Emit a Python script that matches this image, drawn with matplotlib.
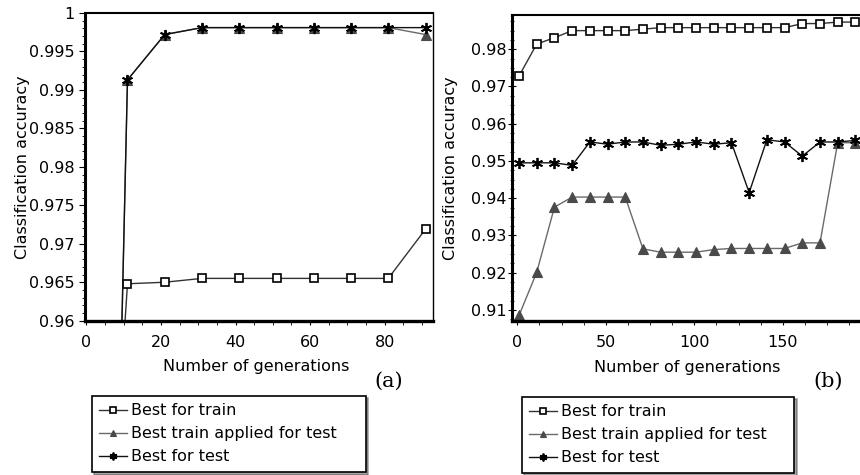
import matplotlib
matplotlib.use("Agg")
import matplotlib.pyplot as plt
from matplotlib.ticker import MultipleLocator, FuncFormatter

plt.rcParams['font.family'] = ['DejaVu Sans']

# ---------------- data ----------------
# panel (a)
gen_a = [1, 11, 21, 31, 41, 51, 61, 71, 81, 91]
a_best_train = [0.890, 0.9648, 0.9650, 0.9655, 0.9655, 0.9655, 0.9655, 0.9655, 0.9655, 0.9719]
a_train_applied = [0.780, 0.9913, 0.9972, 0.9981, 0.9981, 0.9981, 0.9981, 0.9981, 0.9981, 0.9972]
a_best_test = [0.780, 0.9913, 0.9972, 0.9981, 0.9981, 0.9981, 0.9981, 0.9981, 0.9981, 0.9981]

# panel (b)
gen_b = [1, 11, 21, 31, 41, 51, 61, 71, 81, 91, 101, 111, 121, 131, 141, 151, 161, 171, 181, 191]
b_best_train = [0.9728, 0.9814, 0.9831, 0.9850, 0.9850, 0.9850, 0.9850, 0.9854, 0.9858, 0.9858,
                0.9858, 0.9858, 0.9858, 0.9858, 0.9858, 0.9858, 0.9869, 0.9869, 0.9873, 0.9873]
b_train_applied = [0.9085, 0.9201, 0.9376, 0.9403, 0.9403, 0.9403, 0.9403, 0.9264, 0.9255, 0.9255,
                   0.9255, 0.9262, 0.9265, 0.9265, 0.9265, 0.9265, 0.9280, 0.9280, 0.9549, 0.9549]
b_best_test = [0.9495, 0.9495, 0.9495, 0.9488, 0.9551, 0.9545, 0.9551, 0.9551, 0.9542, 0.9545,
               0.9551, 0.9545, 0.9549, 0.9415, 0.9557, 0.9551, 0.9513, 0.9551, 0.9551, 0.9555]

labels = ["Best for train", "Best train applied for test", "Best for test"]
xlabel_txt = "Number of generations"
ylabel_txt = "Classification accuracy"

FS = 11.5
W, H = 860, 475
fig = plt.figure(figsize=(W / 100, H / 100), dpi=100)

def fx(px):
    return px / W

def fy(py):
    return 1 - py / H

ax_a = fig.add_axes([fx(85), fy(320.7), (433 - 85) / W, (320.7 - 13) / H])
ax_b = fig.add_axes([fx(512.3), fy(320.7), (860 - 512.3) / W, (320.7 - 15) / H])

fmt = FuncFormatter(lambda v, p: f"{round(v, 4):g}")

def draw(ax, gen, train, applied, test):
    h2, = ax.plot(gen, applied, color='#6a6a6a', lw=1.0, marker='^', ms=6.5,
                  mfc='#4a4a4a', mec='#4a4a4a', mew=0.8, label=labels[1])
    h1, = ax.plot(gen, train, color='#333333', lw=1.0, marker='s', ms=5.5,
                  mfc='white', mec='black', mew=1.2, label=labels[0])
    h3, = ax.plot(gen, test, color='#111111', lw=1.0, marker=(6, 2, 0), ms=8,
                  mfc='black', mec='black', mew=1.3, label=labels[2])
    return [h1, h2, h3]

hs_a = draw(ax_a, gen_a, a_best_train, a_train_applied, a_best_test)
hs_b = draw(ax_b, gen_b, b_best_train, b_train_applied, b_best_test)

# axes (a)
ax_a.set_xlim(-0.4, 93)
ax_a.set_ylim(0.96, 1.0)
ax_a.xaxis.set_major_locator(MultipleLocator(20))
ax_a.xaxis.set_minor_locator(MultipleLocator(5))
ax_a.yaxis.set_major_locator(MultipleLocator(0.005))
ax_a.yaxis.set_minor_locator(MultipleLocator(0.001))
ax_a.yaxis.set_major_formatter(fmt)
ax_a.spines['left'].set_linewidth(2.2)
ax_a.spines['bottom'].set_linewidth(2.4)
ax_a.spines['top'].set_linewidth(1.5)
ax_a.spines['right'].set_linewidth(1.0)
ax_a.tick_params(axis='y', which='major', direction='out', length=4.3, width=0.8, pad=3, labelsize=FS)
ax_a.tick_params(axis='y', which='minor', direction='out', length=2, width=0.6)
ax_a.tick_params(axis='x', which='major', direction='out', length=3, width=0.8, pad=7, labelsize=FS)
ax_a.tick_params(axis='x', which='minor', direction='out', length=3, width=0.6)

# axes (b)
ax_b.set_xlim(-2.8, 193.6)
ax_b.set_ylim(0.9071, 0.9892)
ax_b.xaxis.set_major_locator(MultipleLocator(50))
ax_b.xaxis.set_minor_locator(MultipleLocator(12.5))
ax_b.yaxis.set_major_locator(MultipleLocator(0.01))
ax_b.yaxis.set_minor_locator(MultipleLocator(0.0025))
ax_b.yaxis.set_major_formatter(fmt)
ax_b.spines['left'].set_linewidth(2.2)
ax_b.spines['bottom'].set_linewidth(2.4)
ax_b.spines['top'].set_linewidth(1.5)
ax_b.spines['right'].set_visible(False)
ax_b.tick_params(axis='y', which='major', direction='inout', length=6, width=0.8, pad=1, labelsize=FS)
ax_b.tick_params(axis='y', which='minor', direction='inout', length=3, width=0.6)
ax_b.tick_params(axis='x', which='major', direction='out', length=3, width=0.8, pad=7, labelsize=FS)
ax_b.tick_params(axis='x', which='minor', direction='out', length=3, width=0.6)

for ax in (ax_a, ax_b):
    ax.tick_params(top=False, right=False, which='both')
    ax.set_xlabel(xlabel_txt, fontsize=FS)
    ax.set_ylabel(ylabel_txt, fontsize=FS)

ax_a.xaxis.set_label_coords(0.493, -0.125)
ax_b.xaxis.set_label_coords(0.5016, -0.13)
ax_a.yaxis.set_label_coords(-0.159, 0.5)
ax_b.yaxis.set_label_coords(-0.156, 0.5)

fig.text(fx(389), fy(381), "(a)", fontsize=15, family='DejaVu Serif', ha='center', va='center')
fig.text(fx(828), fy(381), "(b)", fontsize=15, family='DejaVu Serif', ha='center', va='center')

def add_legend(hs, x0, x1, ytop, ybot):
    lg = fig.legend(hs, labels, loc='upper left',
                    bbox_to_anchor=(fx(x0), fy(ybot), (x1 - x0) / W, (ybot - ytop) / H),
                    mode='expand', fontsize=FS, frameon=True, fancybox=False, shadow=True,
                    framealpha=1, edgecolor='black', borderpad=0.48, labelspacing=0.5,
                    handlelength=1.7, handletextpad=0.3, borderaxespad=0, markerscale=0.7)
    lg.get_frame().set_linewidth(1.2)
    return lg

add_legend(hs_a, 91.7, 365.7, 395.7, 472.3)
add_legend(hs_b, 521.7, 794.3, 396.7, 473.3)

fig.savefig("out.png", dpi=100)
